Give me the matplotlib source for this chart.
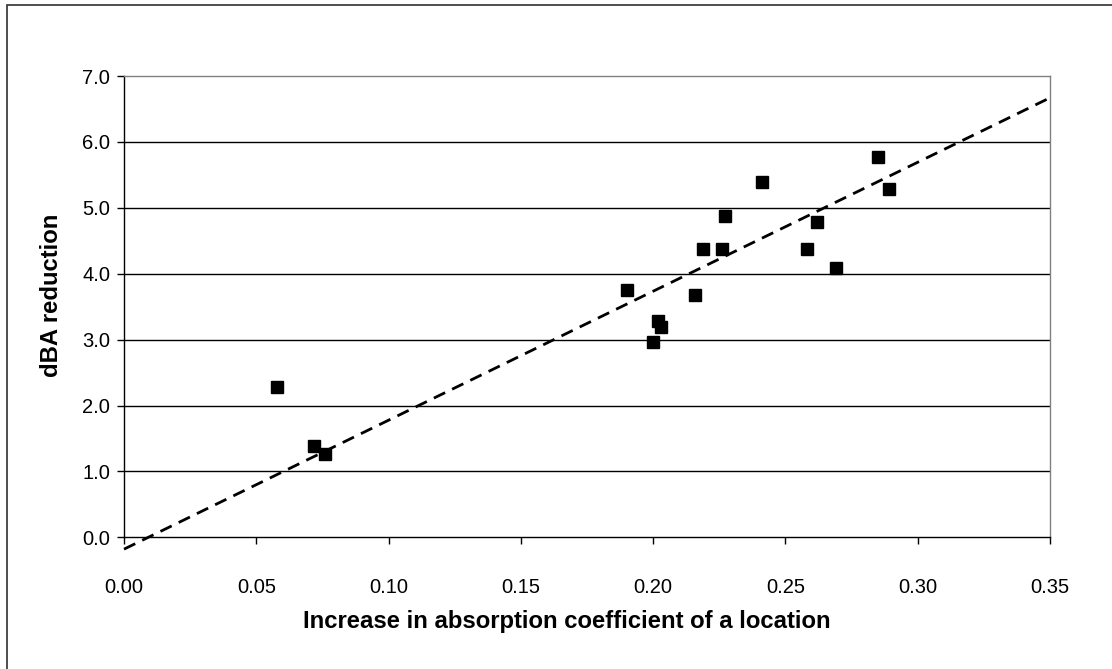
import numpy as np
import matplotlib
matplotlib.use("Agg")
import matplotlib.pyplot as plt
from matplotlib.patches import Rectangle

plt.rcParams['font.family'] = ['Liberation Sans', 'DejaVu Sans']

# increase in absorption coefficient vs dBA reduction
absorption = [0.058, 0.072, 0.076, 0.190, 0.200, 0.202, 0.203, 0.216, 0.219,
              0.226, 0.227, 0.241, 0.258, 0.262, 0.269, 0.285, 0.289]
dba_reduction = [2.28, 1.38, 1.27, 3.76, 2.97, 3.28, 3.19, 3.67, 4.37,
                 4.37, 4.87, 5.39, 4.37, 4.78, 4.08, 5.77, 5.28]

# trendline as drawn in the chart
trend_slope = 19.57
trend_intercept = -0.18

x_ticks = [0.00, 0.05, 0.10, 0.15, 0.20, 0.25, 0.30, 0.35]
y_ticks = [0.0, 1.0, 2.0, 3.0, 4.0, 5.0, 6.0, 7.0]

fig = plt.figure(figsize=(11.12, 6.69), dpi=100)
ax = fig.add_axes([124 / 1112, 1 - 537.3 / 669, (1050 - 124) / 1112, (537.3 - 76) / 669])

# outer chart border (runs off the right/bottom edge like the reference)
fig.patches.append(Rectangle((7 / 1112, -0.1), 1.2, 1 - 5 / 669 + 0.1,
                             transform=fig.transFigure, fill=False,
                             edgecolor='#303030', linewidth=1.2))

# horizontal gridlines
for yv in y_ticks[1:-1]:
    ax.axhline(yv, color='black', linewidth=1.0, zorder=1)

ax.plot(absorption, dba_reduction, 's', color='black', markersize=8.5, zorder=3)

xs = np.array([0.0, 0.35])
ax.plot(xs, trend_slope * xs + trend_intercept, color='black', linewidth=2.0,
        dashes=(4.5, 2.8), clip_on=False, zorder=2)

ax.set_xlim(0, 0.35)
ax.set_ylim(0, 7)
ax.set_xticks(x_ticks)
ax.set_yticks(y_ticks)
ax.set_xticklabels([f"{v:.2f}" for v in x_ticks])
ax.set_yticklabels([f"{v:.1f}" for v in y_ticks])
ax.tick_params(axis='both', direction='out', length=5, width=1, labelsize=14.5, colors='black')
ax.tick_params(axis='x', pad=24)
ax.tick_params(axis='y', pad=5)

for side in ['left', 'bottom']:
    ax.spines[side].set_color('black')
    ax.spines[side].set_linewidth(1.0)
for side in ['top', 'right']:
    ax.spines[side].set_color('#808080')
    ax.spines[side].set_linewidth(1.0)

ax.set_xlabel("Increase in absorption coefficient of a location", fontsize=17.2,
              fontweight='bold', labelpad=10)
ax.set_ylabel("dBA reduction", fontsize=17.2, fontweight='bold', labelpad=14)
ax.xaxis.label.set_x(0.478)
ax.yaxis.label.set_y(0.525)

fig.savefig("out.png", dpi=100)
